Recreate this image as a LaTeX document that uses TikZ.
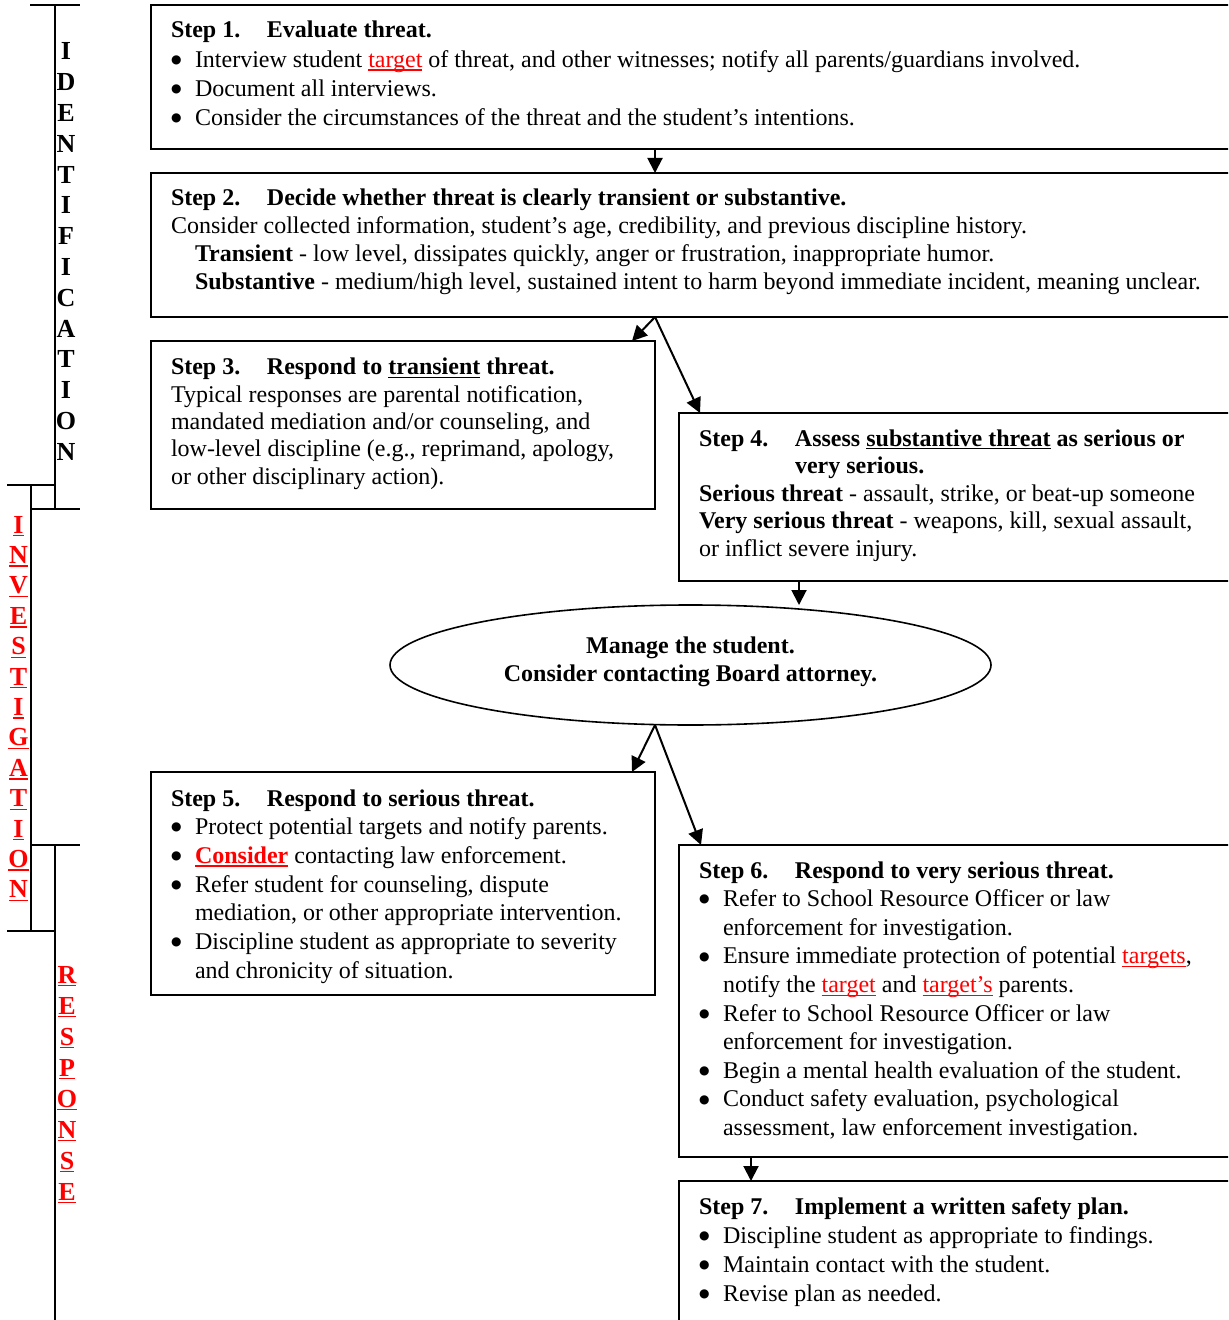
\documentclass[tikz,border=0pt]{standalone}
\usepackage{fontspec}
\setmainfont{Liberation Serif}
\newfontfamily\dejavu{DejaVu Sans}
\usetikzlibrary{arrows.meta,shapes.geometric,calc}
\definecolor{wred}{RGB}{255,0,0}
\newcommand\ulx[2][0.6pt]{\setbox0\hbox{#2}\rlap{\rule[-1.7pt]{\wd0}{#1}}\box0\relax}
\newcommand\blk[2]{{\fontsize{12.0pt}{#1}\selectfont\begin{tabular}[t]{@{}l@{}}#2\end{tabular}}}
\newcommand\cblk[2]{{\fontsize{12.0pt}{#1}\selectfont\bfseries\begin{tabular}[t]{@{}c@{}}#2\end{tabular}}}
\newcommand\bl{\makebox[12pt][l]{\raisebox{1.9pt}{\fontsize{6pt}{6pt}\dejavu ●}}}
\newcommand\bi{\hspace*{12pt}}
\newcommand\hd[2]{\textbf{\makebox[48pt][l]{#1}#2}}
\newcommand\rl[1]{\ulx[0.7pt]{#1}}
\begin{document}
\begin{tikzpicture}[x=0.5pt,y=-0.5pt,
  box/.style={draw, line width=1pt, inner sep=0pt, outer sep=0pt, anchor=north west},
  txt/.style={anchor=base west, inner sep=0pt, outer sep=0pt},
  arr/.style={-{Triangle[length=7.5pt,width=7.5pt]}, line width=1pt},
  brk/.style={line width=1pt},
  ell/.style={draw, ellipse, line width=0.8pt, inner sep=0pt, outer sep=0pt, minimum width=300.5pt, minimum height=60pt}]
\useasboundingbox (0,0) rectangle (1228,1320);
\clip (0,0) rectangle (1228,1320);

% left brackets
\draw[brk] (30,5) -- (80,5);
\draw[brk] (55,5) -- (55,509);
\draw[brk] (7,485) -- (55,485);
\draw[brk] (31,485) -- (31,931);
\draw[brk] (31,509) -- (80,509);
\draw[brk] (31,845) -- (80,845);
\draw[brk] (55,845) -- (55,1330);
\draw[brk] (7,931) -- (55,931);

\node[anchor=base, inner sep=0pt] (lid) at (66,60) {{\fontsize{13pt}{15.4pt}\selectfont\bfseries
  \begin{tabular}[t]{@{}c@{}}I\\D\\E\\N\\T\\I\\F\\I\\C\\A\\T\\I\\O\\N\end{tabular}}};
\node[anchor=base, inner sep=0pt] (linv) at (18.5,533) {{\fontsize{13pt}{15.2pt}\selectfont\bfseries\color{wred}
  \begin{tabular}[t]{@{}c@{}}\rl{I}\\\rl{N}\\\rl{V}\\\rl{E}\\\rl{S}\\\rl{T}\\\rl{I}\\\rl{G}\\\rl{A}\\\rl{T}\\\rl{I}\\\rl{O}\\\rl{N}\end{tabular}}};
\node[anchor=base, inner sep=0pt] (lres) at (67,983) {{\fontsize{13pt}{15.5pt}\selectfont\bfseries\color{wred}
  \begin{tabular}[t]{@{}c@{}}\rl{R}\\\rl{E}\\\rl{S}\\\rl{P}\\\rl{O}\\\rl{N}\\\rl{S}\\\rl{E}\end{tabular}}};

% boxes
\node[box, minimum width=545pt, minimum height=72pt] (b1) at (151,5) {};
\node[box, minimum width=545pt, minimum height=72pt] (b2) at (151,173) {};
\node[box, minimum width=252pt, minimum height=84pt] (b3) at (151,341) {};
\node[box, minimum width=281pt, minimum height=84pt] (b4) at (679,413) {};
\node[ell] (el) at (690.5,665) {};
\node[box, minimum width=252pt, minimum height=111.5pt] (b5) at (151,772) {};
\node[box, minimum width=281pt, minimum height=156pt] (b6) at (679,845) {};
\node[box, minimum width=281pt, minimum height=90pt] (b7) at (679,1181) {};

% texts
\node[txt] (t1) at (171,38) {\blk{14.6pt}{%
  \hd{Step 1.}{Evaluate threat.}\\
  \bl Interview student \textcolor{wred}{\ulx{target}} of threat, and other witnesses; notify all parents/guardians involved.\\
  \bl Document all interviews.\\
  \bl Consider the circumstances of the threat and the student’s intentions.}};
\node[txt] (t2) at (171,206) {\blk{13.85pt}{%
  \hd{Step 2.}{Decide whether threat is clearly transient or substantive.}\\
  Consider collected information, student’s age, credibility, and previous discipline history.\\
  \bi\textbf{Transient} - low level, dissipates quickly, anger or frustration, inappropriate humor.\\
  \bi\textbf{Substantive} - medium/high level, sustained intent to harm beyond immediate incident, meaning unclear.}};
\node[txt] (t3) at (171,375) {\blk{13.65pt}{%
  \hd{Step 3.}{Respond to \ulx{transient} threat.}\\
  Typical responses are parental notification,\\
  mandated mediation and/or counseling, and\\
  low-level discipline (e.g., reprimand, apology,\\
  or other disciplinary action).}};
\node[txt] (t4) at (699,446) {\blk{13.75pt}{%
  \hd{Step 4.}{Assess \ulx{substantive threat} as serious or}\\
  \hspace*{48pt}\textbf{very serious.}\\
  \textbf{Serious threat} - assault, strike, or beat-up someone\\
  \textbf{Very serious threat} - weapons, kill, sexual assault,\\
  or inflict severe injury.}};
\node[anchor=base, inner sep=0pt] (te) at (690.5,653) {\cblk{14pt}{%
  Manage the student.\\
  Consider contacting Board attorney.}};
\node[txt] (t5) at (171,806) {\blk{14.35pt}{%
  \hd{Step 5.}{Respond to serious threat.}\\
  \bl Protect potential targets and notify parents.\\
  \bl \textcolor{wred}{\textbf{\ulx[1pt]{Consider}}} contacting law enforcement.\\
  \bl Refer student for counseling, dispute\\
  \bi mediation, or other appropriate intervention.\\
  \bl Discipline student as appropriate to severity\\
  \bi and chronicity of situation.}};
\node[txt] (t6) at (699,878) {\blk{14.3pt}{%
  \hd{Step 6.}{Respond to very serious threat.}\\
  \bl Refer to School Resource Officer or law\\
  \bi enforcement for investigation.\\
  \bl Ensure immediate protection of potential \textcolor{wred}{\ulx{targets}},\\
  \bi notify the \textcolor{wred}{\ulx{target}} and \textcolor{wred}{\ulx{target’s}} parents.\\
  \bl Refer to School Resource Officer or law\\
  \bi enforcement for investigation.\\
  \bl Begin a mental health evaluation of the student.\\
  \bl Conduct safety evaluation, psychological\\
  \bi assessment, law enforcement investigation.}};
\node[txt] (t7) at (699,1214) {\blk{14.5pt}{%
  \hd{Step 7.}{Implement a written safety plan.}\\
  \bl Discipline student as appropriate to findings.\\
  \bl Maintain contact with the student.\\
  \bl Revise plan as needed.}};

% connectors
\draw[arr] (b1.south -| b3.east) -- (b2.north -| b3.east);
\draw[arr] (b2.south -| b3.east) -- ($(b3.north east)+(-23,0)$);
\draw[arr] (b2.south -| b3.east) -- ($(b4.north west)+(21,0)$);
\draw[arr] ($(b4.south west)+(120,0)$) coordinate (a4) -- (a4 |- el.north);
\draw[arr] (el.south -| b5.east) -- ($(b5.north east)+(-23,0)$);
\draw[arr] (el.south -| b5.east) -- ($(b6.north west)+(22,0)$);
\draw[arr] ($(b6.south west)+(72,0)$) coordinate (a6) -- (a6 |- b7.north);
\end{tikzpicture}
\end{document}
